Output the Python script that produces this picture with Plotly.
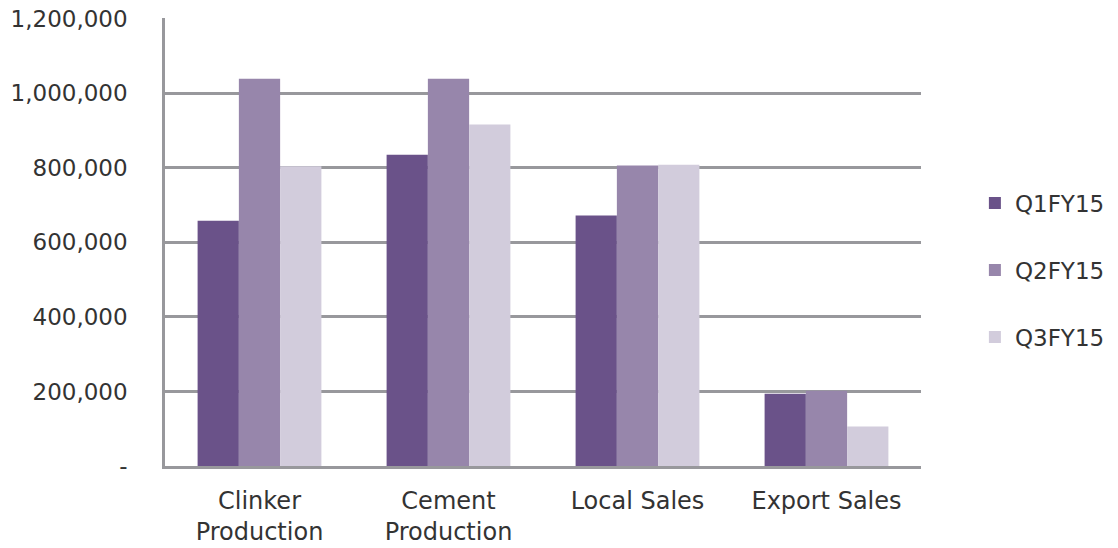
import plotly.graph_objects as go

categories = ["Clinker<br>Production", "Cement<br>Production", "Local Sales", "Export Sales"]
series_names = ["Q1FY15", "Q2FY15", "Q3FY15"]
q1 = [658000, 835000, 672000, 194000]
q2 = [1039000, 1039000, 806000, 202000]
q3 = [804000, 916000, 808000, 106000]
colors = ["#6a5289", "#9786ab", "#d2ccdc"]
y_tickvals = [0, 200000, 400000, 600000, 800000, 1000000, 1200000]
y_ticktext = ["-", "200,000", "400,000", "600,000", "800,000", "1,000,000", "1,200,000"]

FONT = "DejaVu Sans, sans-serif"

fig = go.Figure()
for name, vals, col in zip(series_names, [q1, q2, q3], colors):
    fig.add_trace(go.Bar(x=categories, y=vals, name=name, marker_color=col,
                         marker_line_width=0, legendgroup=name))

fig.update_layout(
    width=1118, height=548,
    margin=dict(l=165, r=197, t=18, b=82),
    paper_bgcolor="white", plot_bgcolor="white",
    barmode="group", bargap=0.345, bargroupgap=0,
    font=dict(family=FONT, size=23, color="#333333"),
    legend=dict(xref="container", yref="container", x=0.872, y=0.507,
                xanchor="left", yanchor="middle",
                traceorder="grouped", tracegroupgap=34, borderwidth=0,
                font=dict(size=23, color="#333333"), itemwidth=30),
    showlegend=True,
)
fig.update_yaxes(range=[0, 1202000], tickvals=y_tickvals, ticktext=y_ticktext,
                 showgrid=True, gridcolor="#98989c", gridwidth=2.5,
                 showline=True, linecolor="#98989c", linewidth=2.5,
                 zeroline=False, ticks="", ticklabelstandoff=30, automargin=False,
                 tickfont=dict(size=23, color="#333333"))
fig.update_xaxes(showline=True, linecolor="#98989c", linewidth=2.5, ticks="",
                 automargin=False,
                 tickfont=dict(size=24, color="#333333"), ticklabelstandoff=11)

fig.write_html("out.html")
